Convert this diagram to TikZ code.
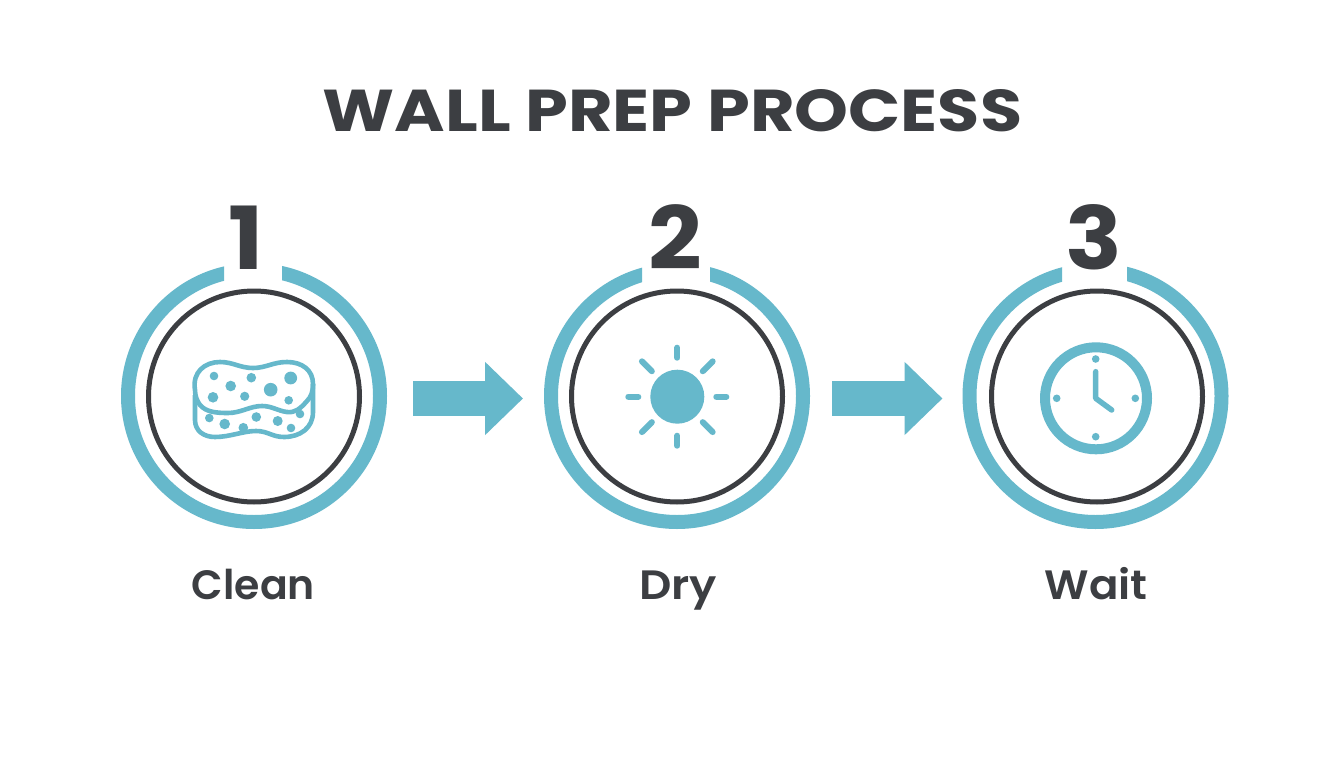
\documentclass[tikz,border=0pt]{standalone}
\usepackage{fontspec}
\setmainfont{Poppins}
\newfontfamily\lblfont{Poppins SemiBold}
\usetikzlibrary{arrows.meta,calc}
\definecolor{teal1}{HTML}{66B8CB}
\definecolor{dark1}{HTML}{3C3E42}
\tikzset{
  titletext/.style={anchor=base,inner sep=0pt,text=dark1,font=\bfseries\fontsize{59}{60}\selectfont},
  digittext/.style={anchor=base,inner sep=0pt,text=dark1,font=\bfseries\fontsize{87}{87}\selectfont},
  labeltext/.style={anchor=base,inner sep=0pt,text=dark1,font=\lblfont\fontsize{41}{42}\selectfont},
  outerring/.style={circle,draw=teal1,line width=14pt,minimum size=252pt,inner sep=0pt},
  innerring/.style={circle,draw=dark1,line width=5pt,minimum size=211pt,inner sep=0pt},
  blockarrow/.style={draw=teal1,line width=35pt,-{Triangle[length=38pt,width=71pt,fill=teal1]}},
  iconline/.style={draw=teal1,line width=4.6pt,line join=round},
  rayline/.style={draw=teal1,line width=6pt,line cap=round},
  handline/.style={draw=teal1,line width=5.5pt,line cap=round,line join=round},
  icondot/.style={fill=teal1}
}
\begin{document}
\begin{tikzpicture}[x=1pt,y=-1pt]
\useasboundingbox (0,0) rectangle (1344,768);
\fill[white] (0,0) rectangle (1344,768);
% title
\node[titletext] (title) at (672.5,131) {\scalebox{1.162}[1]{WALL PREP PROCESS}};
% outer rings with a gap under the digit
\begin{scope}
\clip (224,0) -- (224,396) -- (282,396) -- (282,0) -- (1344,0) -- (1344,768) -- (0,768) -- (0,0) -- cycle;
\node[outerring] (ring1) at (254,396) {};
\end{scope}
\begin{scope}
\clip (642,0) -- (642,396) -- (710,396) -- (710,0) -- (1344,0) -- (1344,768) -- (0,768) -- (0,0) -- cycle;
\node[outerring] (ring2) at (677,396) {};
\end{scope}
\begin{scope}
\clip (1062,0) -- (1062,396) -- (1127,396) -- (1127,0) -- (1344,0) -- (1344,768) -- (0,768) -- (0,0) -- cycle;
\node[outerring] (ring3) at (1095.5,396) {};
\end{scope}
% inner rings
\node[innerring] (inner1) at (254,396.5) {};
\node[innerring] (inner2) at (677,396.5) {};
\node[innerring] (inner3) at (1097,396.5) {};
% digits
\node[digittext] (num1) at (246.5,269) {\scalebox{1.08}[1]{1}};
\node[digittext] (num2) at (675.5,269) {\scalebox{1.08}[1]{2}};
\node[digittext] (num3) at (1094,269) {\scalebox{1.08}[1]{3}};
% labels
\node[labeltext] (lab1) at (253.5,599) {Clean};
\node[labeltext] (lab2) at (678,599) {\scalebox{1.1}[1]{Dry}};
\node[labeltext] (lab3) at (1096,599) {\scalebox{1.06}[1]{Wait}};
% connectors
\draw[blockarrow,shorten <=26pt,shorten >=21pt] ([yshift=-2.5pt]ring1.east) -- ([yshift=-2.5pt]ring2.west);
\draw[blockarrow,shorten <=22pt,shorten >=20pt] ([yshift=-2.5pt]ring2.east) -- ([yshift=-2.5pt]ring3.west);
% sponge
\draw[iconline] (195,390) .. controls (192,372) and (205,362) .. (220,362)
  .. controls (233,362) and (240,368) .. (253,368)
  .. controls (266,368) and (273,362) .. (287,362)
  .. controls (302,362) and (313,370) .. (313,384)
  .. controls (313,392) and (311,397) .. (307,401)
  .. controls (300,409) and (295,413) .. (287,412)
  .. controls (278,411) and (272,406) .. (262,406)
  .. controls (250,406) and (241,413) .. (228,413)
  .. controls (216,413) and (206,412) .. (200,405)
  .. controls (197,401) and (195,396) .. (195,390) -- cycle;
\draw[iconline] (195,395) -- (195,420)
  .. controls (195,431) and (204,437) .. (215,437)
  .. controls (230,437) and (243,431) .. (256,431)
  .. controls (268,431) and (272,437) .. (284,437)
  .. controls (300,437) and (313,428) .. (313,412) -- (313,384);
\foreach \px/\py/\pr in {214/376/4.3,230.7/386/5.3,251.3/377.7/4.8,290.7/378/6.4,270.7/389.7/6.8,213/397.3/5.3,244.7/396.3/4.6,288.7/400.3/4.3,209.3/418/4.3,224.7/424/5.3,256.3/417/4.8,277.7/421/5,300/414/4.3,291/428/4.3,243.3/427.7/4.8}
  \fill[icondot] (\px,\py) circle (\pr);
% sun
\fill[icondot] (677.3,396.7) circle (27);
\foreach \a in {0,90,180,270}
  \draw[rayline] ($(677.3,396.7)+(\a:39)$) -- ($(677.3,396.7)+(\a:49)$);
\foreach \a in {45,135,225,315}
  \draw[rayline] ($(677.3,396.7)+(\a:36)$) -- ($(677.3,396.7)+(\a:50)$);
% clock
\draw[teal1,line width=10pt] (1096,398.3) circle (51);
\foreach \px/\py in {1095.7/359,1095.7/436.7,1056.7/398.3,1135.3/398.3}
  \fill[icondot] (\px,\py) circle (3.8);
\draw[handline] (1095.7,371.7) -- (1095.7,398.3) -- (1111.7,410);
\end{tikzpicture}
\end{document}
